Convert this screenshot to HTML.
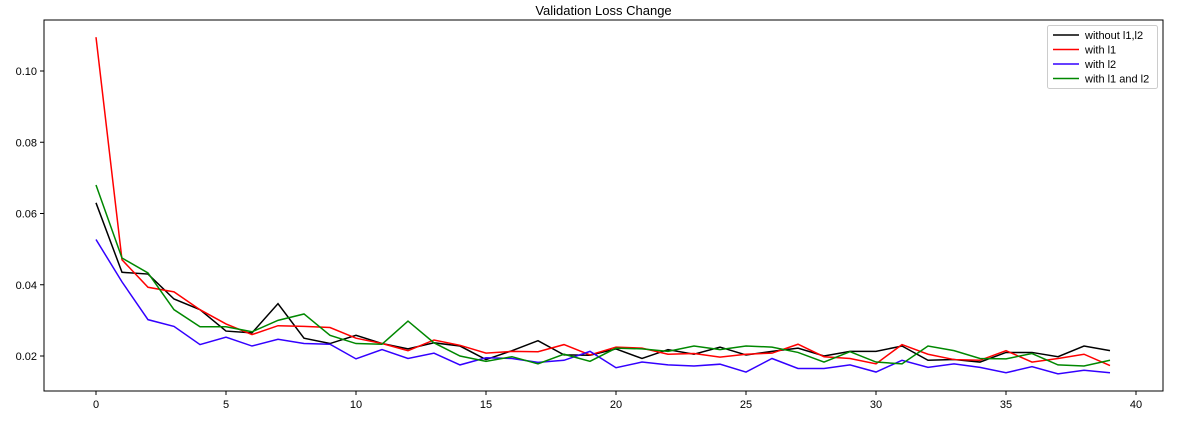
<!DOCTYPE html>
<html><head><meta charset="utf-8"><style>
body{margin:0;background:#fff;font-family:"Liberation Sans",sans-serif}
svg text{font-family:"Liberation Sans",sans-serif}
</style></head><body>
<svg id="chart" width="1196" height="424"></svg>
<script>
const epochs=[...Array(40).keys()];
const black=[0.063,0.0435,0.043,0.036,0.033,0.027,0.0265,0.0347,0.025,0.0235,0.0258,0.0235,0.022,0.0237,0.0228,0.019,0.0215,0.0243,0.0203,0.0202,0.022,0.0193,0.0218,0.0205,0.0225,0.0203,0.0213,0.0222,0.02,0.0213,0.0213,0.0228,0.0188,0.019,0.0183,0.021,0.021,0.0198,0.0228,0.0215];
const red=[0.1095,0.047,0.0393,0.038,0.033,0.029,0.026,0.0285,0.0283,0.028,0.025,0.0235,0.0215,0.0245,0.023,0.0208,0.0213,0.0212,0.0232,0.0203,0.0225,0.0222,0.0205,0.0207,0.0197,0.0205,0.0208,0.0233,0.0198,0.0193,0.0178,0.0232,0.0205,0.019,0.0188,0.0215,0.0183,0.0193,0.0205,0.0173];
const blue=[0.0527,0.0408,0.0302,0.0283,0.0232,0.0253,0.0228,0.0247,0.0235,0.0233,0.0192,0.0218,0.0193,0.0208,0.0175,0.0195,0.0193,0.0182,0.0188,0.0213,0.0167,0.0183,0.0175,0.0172,0.0177,0.0155,0.0193,0.0165,0.0165,0.0175,0.0155,0.0188,0.0168,0.0178,0.0168,0.0153,0.017,0.015,0.016,0.0153];
const green=[0.068,0.0475,0.0433,0.033,0.0282,0.0282,0.0268,0.03,0.0318,0.0258,0.0235,0.0233,0.0298,0.0237,0.02,0.0185,0.0198,0.0178,0.0205,0.0185,0.0222,0.022,0.0213,0.0228,0.0218,0.0228,0.0225,0.021,0.0183,0.0212,0.0183,0.0178,0.0228,0.0215,0.0193,0.0192,0.0207,0.0175,0.0172,0.0188];
const xTicks=[0,5,10,15,20,25,30,35,40];
const yTicks=[0.02,0.04,0.06,0.08,0.10];
const seriesNames=["without l1,l2","with l1","with l2","with l1 and l2"];
const seriesColors=["#000000","#ff0000","#3300ff","#008800"];
const seriesData=[black,red,blue,green];

const svg=document.getElementById('chart');
const NS='http://www.w3.org/2000/svg';
const L=44,R=1163,T=20,B=391;
const x=v=>96+v*26;
const y=v=>356-(v-0.02)*3562.5;
function mk(tag,attrs,parent){const e=document.createElementNS(NS,tag);for(const k in attrs)e.setAttribute(k,attrs[k]);(parent||svg).appendChild(e);return e;}

const title=mk('text',{x:(L+R)/2,y:15,'text-anchor':'middle','font-size':13});
title.textContent='Validation Loss Change';



xTicks.forEach(t=>{
  const l=mk('line',{x1:x(t),x2:x(t),y1:B,y2:B+4,stroke:'#000'});
  
  
  const tx=mk('text',{x:x(t),y:B+17,'text-anchor':'middle','font-size':11});
  tx.textContent=t;
  
  
});
yTicks.forEach(t=>{
  const l=mk('line',{x1:L-4,x2:L,y1:y(t),y2:y(t),stroke:'#000'});
  
  
  const tx=mk('text',{x:L-7,y:y(t)+4,'text-anchor':'end','font-size':11});
  tx.textContent=t.toFixed(2);
  
  
});

seriesData.forEach((d,i)=>{
  const p=mk('polyline',{points:d.map((v,j)=>x(epochs[j])+','+y(v)).join(' '),fill:'none',stroke:seriesColors[i],'stroke-width':1.5});
  
  
});

const frame=mk('rect',{x:L,y:T,width:R-L,height:B-T,fill:'none',stroke:'#000','stroke-width':1});



const lg=mk('g',{});


mk('rect',{x:1047.5,y:25.5,width:110,height:63,rx:2,fill:'#fff',stroke:'#ccc'},lg);
seriesNames.forEach((n,i)=>{
  const yy=35+i*14.5;
  const e=mk('g',{},lg);
  
  
  mk('line',{x1:1053,x2:1079,y1:yy,y2:yy,stroke:seriesColors[i],'stroke-width':1.5},e);
  const t=mk('text',{x:1085,y:yy+4,'font-size':11},e);
  t.textContent=n;
});
</script>
</body></html>
